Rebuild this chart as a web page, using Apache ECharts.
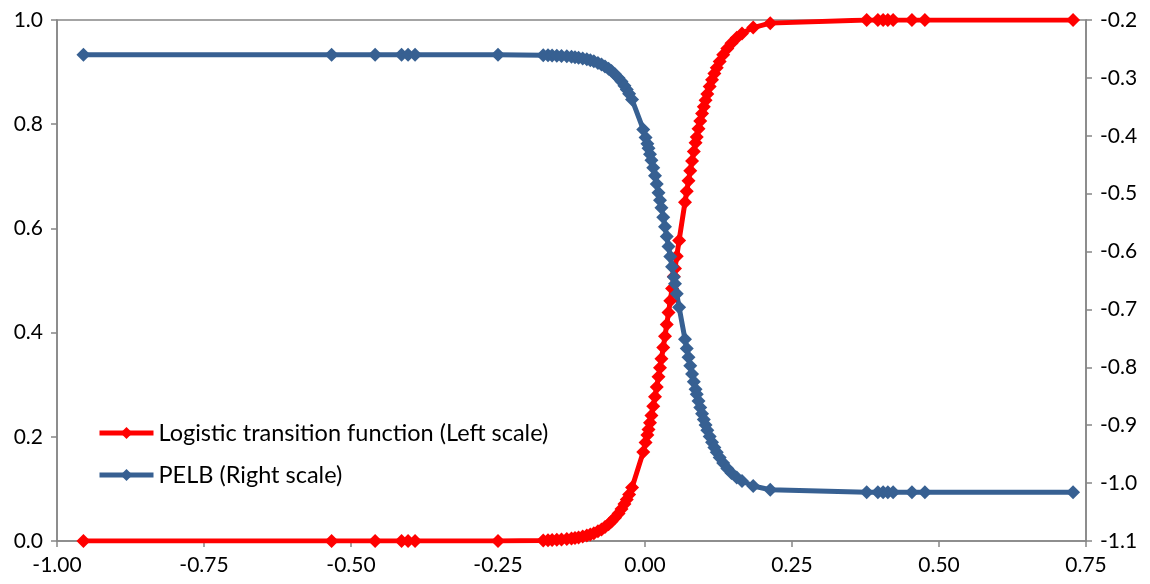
<!DOCTYPE html>
<html>
<head>
<meta charset="utf-8">
<script src="https://cdn.jsdelivr.net/npm/echarts@6/dist/echarts.min.js"></script>
<style>
  html, body { margin: 0; padding: 0; background: #fff; }
  #chart { width: 1150px; height: 584px; }
</style>
</head>
<body>
<div id="chart"></div>
<script>
// Transition variable (shared x values of both series)
const transition = [
  -0.955, -0.533, -0.459, -0.414, -0.403, -0.391, -0.250,
  -0.173, -0.165, -0.158, -0.150, -0.142, -0.133, -0.125, -0.119, -0.113, -0.106,
  -0.099, -0.093, -0.087, -0.080, -0.074, -0.068, -0.062, -0.057, -0.051, -0.045,
  -0.040, -0.035, -0.031, -0.027, -0.022,
  -0.003, 0.001, 0.004, 0.006, 0.0085, 0.011, 0.014, 0.017, 0.020, 0.023, 0.0255,
  0.028, 0.031, 0.034, 0.037, 0.040, 0.043, 0.046, 0.049, 0.051, 0.054, 0.058,
  0.068, 0.071, 0.074, 0.077, 0.080, 0.083, 0.086, 0.088, 0.091, 0.094, 0.097,
  0.100, 0.103, 0.106, 0.110, 0.114, 0.118, 0.122, 0.127, 0.133, 0.140, 0.147,
  0.156, 0.165, 0.184, 0.213,
  0.377, 0.396, 0.405, 0.413, 0.422, 0.454, 0.476, 0.728
];

// Logistic transition function (left scale)
const logistic = [
  0.0000, 0.0000, 0.0000, 0.0000, 0.0000, 0.0000, 0.0001,
  0.0011, 0.0014, 0.0017, 0.0022, 0.0028, 0.0036, 0.0047, 0.0056, 0.0067, 0.0084,
  0.0104, 0.0125, 0.0150, 0.0186, 0.0223, 0.0267, 0.0320, 0.0372, 0.0444, 0.0530,
  0.0613, 0.0709, 0.0795, 0.0891, 0.1025,
  0.1706, 0.1890, 0.2036, 0.2138, 0.2271, 0.2410, 0.2585, 0.2767, 0.2957, 0.3154, 0.3324,
  0.3498, 0.3712, 0.3932, 0.4156, 0.4384, 0.4613, 0.4845, 0.5077, 0.5232, 0.5464, 0.5769,
  0.6502, 0.6711, 0.6913, 0.7108, 0.7295, 0.7474, 0.7646, 0.7756, 0.7913, 0.8062, 0.8204,
  0.8337, 0.8462, 0.8579, 0.8724, 0.8855, 0.8975, 0.9083, 0.9205, 0.9331, 0.9455, 0.9556,
  0.9660, 0.9741, 0.9855, 0.9940,
  1.0000, 1.0000, 1.0000, 1.0000, 1.0000, 1.0000, 1.0000, 1.0000
];

// PELB (right scale)
const pelb = [
  -0.2600, -0.2600, -0.2600, -0.2600, -0.2600, -0.2600, -0.2601,
  -0.2608, -0.2610, -0.2613, -0.2616, -0.2621, -0.2628, -0.2635, -0.2642, -0.2651, -0.2664,
  -0.2679, -0.2695, -0.2713, -0.2741, -0.2769, -0.2802, -0.2842, -0.2881, -0.2936, -0.3001,
  -0.3063, -0.3136, -0.3201, -0.3274, -0.3375,
  -0.3890, -0.4029, -0.4139, -0.4216, -0.4317, -0.4422, -0.4554, -0.4692, -0.4835, -0.4984, -0.5113,
  -0.5244, -0.5406, -0.5573, -0.5742, -0.5914, -0.6087, -0.6263, -0.6438, -0.6555, -0.6731, -0.6961,
  -0.7516, -0.7674, -0.7826, -0.7974, -0.8115, -0.8250, -0.8380, -0.8464, -0.8582, -0.8695, -0.8802,
  -0.8903, -0.8997, -0.9086, -0.9195, -0.9294, -0.9385, -0.9467, -0.9559, -0.9654, -0.9748, -0.9824,
  -0.9903, -0.9964, -1.0050, -1.0115,
  -1.0160, -1.0160, -1.0160, -1.0160, -1.0160, -1.0160, -1.0160, -1.0160
];

const seriesNames = ['Logistic transition function (Left scale)', 'PELB (Right scale)'];
const seriesColors = ['#ff0000', '#376092'];

const FONT = 'Lato';
const AXIS_GREY = '#868686';

const chart = echarts.init(document.getElementById('chart'), null, { renderer: 'canvas' });

function axisCommon(margin) {
  return {
    axisLine: { show: true, onZero: false, lineStyle: { color: AXIS_GREY, width: 1.5 } },
    axisTick: { show: true, inside: false, length: 6, lineStyle: { color: AXIS_GREY, width: 1.5 } },
    splitLine: { show: false },
    axisLabel: { color: '#000', fontFamily: FONT, fontSize: 21, margin: margin }
  };
}

function seriesStyle(i) {
  return {
    symbol: 'diamond', symbolSize: 14, showAllSymbol: true,
    color: seriesColors[i],
    lineStyle: { width: 5, color: seriesColors[i] },
    itemStyle: { color: seriesColors[i] }
  };
}

const xAxis = axisCommon(14);
Object.assign(xAxis, { type: 'value', min: -1, max: 0.75, interval: 0.25 });
xAxis.axisLabel.formatter = v => v.toFixed(2);

const yLeft = axisCommon(14);
Object.assign(yLeft, { type: 'value', position: 'left', min: 0, max: 1, interval: 0.2 });
yLeft.axisLabel.formatter = v => v.toFixed(1);

const yRight = axisCommon(14);
Object.assign(yRight, { type: 'value', position: 'right', min: -1.1, max: -0.2, interval: 0.1 });
yRight.axisLabel.formatter = v => v.toFixed(1);

chart.setOption({
  animation: false,
  backgroundColor: '#fff',
  grid: {
    left: 57, right: 64, top: 20, bottom: 43,
    show: true, borderColor: AXIS_GREY, borderWidth: 1.5, backgroundColor: 'transparent'
  },
  legend: {
    orient: 'vertical',
    left: 92, top: 416,
    itemWidth: 54, itemHeight: 15, itemGap: 18,
    lineStyle: { width: 5 },
    textStyle: { color: '#000', fontFamily: FONT, fontSize: 23.5 },
    data: seriesNames
  },
  xAxis: xAxis,
  yAxis: [yLeft, yRight],
  series: [
    Object.assign({
      name: seriesNames[0], type: 'line', yAxisIndex: 0,
      data: transition.map((x, i) => [x, logistic[i]])
    }, seriesStyle(0)),
    Object.assign({
      name: seriesNames[1], type: 'line', yAxisIndex: 1,
      data: transition.map((x, i) => [x, pelb[i]])
    }, seriesStyle(1))
  ]
});
</script>
</body>
</html>
